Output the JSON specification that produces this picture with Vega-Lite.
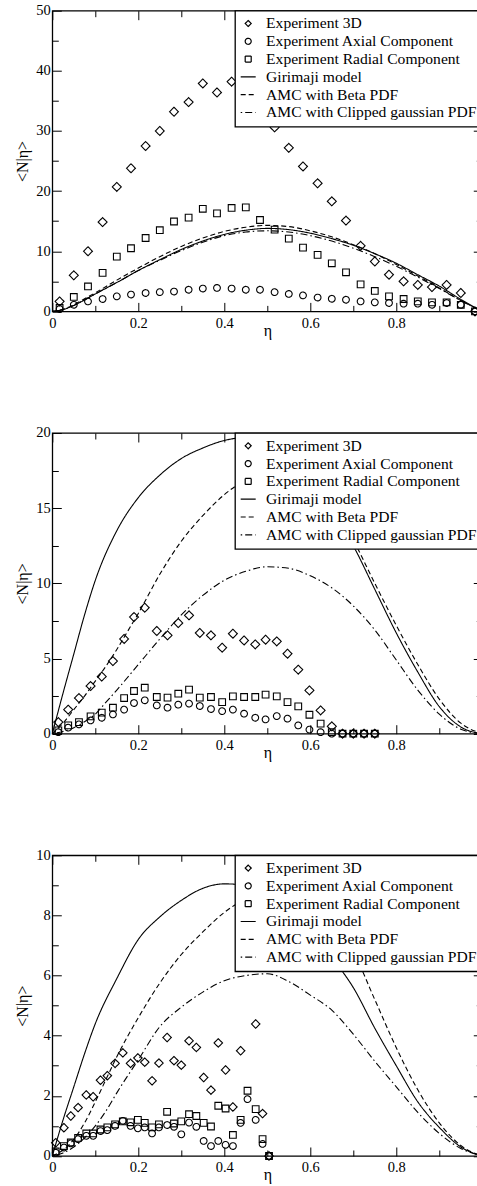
{
  "$schema": "https://vega.github.io/schema/vega-lite/v6.json",
  "padding": {"left": 13.3, "top": 1.7, "right": 0, "bottom": 0},
  "spacing": 121.3,
  "bounds": "flush",
  "config": {
    "font": "Liberation Serif",
    "view": {"stroke": "black", "strokeWidth": 1.3},
    "axis": {"domain": false, "grid": false, "tickColor": "black", "tickWidth": 1, "labelColor": "black", "titleColor": "black", "labelFont": "Liberation Serif", "labelFontSize": 14.5, "titleFont": "Liberation Serif", "titleFontWeight": "normal", "titleFontSize": 16, "labelFlush": false, "labelOverlap": false},
    "legend": {"orient": "none", "legendX": 182.7, "legendY": 0, "title": null, "strokeColor": "black", "strokeWidth": 1.3, "fillColor": "white", "padding": 5, "labelFont": "Liberation Serif", "labelFontSize": 15.6, "labelColor": "black", "labelLimit": 500, "symbolSize": 36, "symbolStrokeWidth": 1.2, "symbolOffset": 0.4, "labelOffset": 10.1, "rowPadding": 0.8}
  },
  "datasets": {
    "pts": [
      {"p":1,"s":"Experiment 3D","eta":0.017,"n":1.66},{"p":1,"s":"Experiment 3D","eta":0.05,"n":6.0},{"p":1,"s":"Experiment 3D","eta":0.083,"n":10.0},{"p":1,"s":"Experiment 3D","eta":0.117,"n":14.85},{"p":1,"s":"Experiment 3D","eta":0.15,"n":20.7},{"p":1,"s":"Experiment 3D","eta":0.183,"n":23.8},{"p":1,"s":"Experiment 3D","eta":0.217,"n":27.5},{"p":1,"s":"Experiment 3D","eta":0.25,"n":30.0},{"p":1,"s":"Experiment 3D","eta":0.283,"n":33.2},{"p":1,"s":"Experiment 3D","eta":0.317,"n":34.8},{"p":1,"s":"Experiment 3D","eta":0.35,"n":37.9},{"p":1,"s":"Experiment 3D","eta":0.383,"n":36.4},{"p":1,"s":"Experiment 3D","eta":0.417,"n":38.2},{"p":1,"s":"Experiment 3D","eta":0.45,"n":39.0},{"p":1,"s":"Experiment 3D","eta":0.483,"n":35.0},{"p":1,"s":"Experiment 3D","eta":0.517,"n":30.6},{"p":1,"s":"Experiment 3D","eta":0.55,"n":27.2},{"p":1,"s":"Experiment 3D","eta":0.583,"n":24.1},{"p":1,"s":"Experiment 3D","eta":0.617,"n":21.3},{"p":1,"s":"Experiment 3D","eta":0.65,"n":18.3},{"p":1,"s":"Experiment 3D","eta":0.683,"n":15.1},{"p":1,"s":"Experiment 3D","eta":0.717,"n":10.9},{"p":1,"s":"Experiment 3D","eta":0.75,"n":8.3},{"p":1,"s":"Experiment 3D","eta":0.783,"n":6.1},{"p":1,"s":"Experiment 3D","eta":0.817,"n":5.0},{"p":1,"s":"Experiment 3D","eta":0.85,"n":4.4},{"p":1,"s":"Experiment 3D","eta":0.883,"n":4.05},{"p":1,"s":"Experiment 3D","eta":0.917,"n":4.4},{"p":1,"s":"Experiment 3D","eta":0.95,"n":3.06},{"p":1,"s":"Experiment 3D","eta":0.983,"n":0},
      {"p":1,"s":"Experiment Axial Component","eta":0.017,"n":0.4},{"p":1,"s":"Experiment Axial Component","eta":0.05,"n":1.1},{"p":1,"s":"Experiment Axial Component","eta":0.083,"n":1.66},{"p":1,"s":"Experiment Axial Component","eta":0.117,"n":2.06},{"p":1,"s":"Experiment Axial Component","eta":0.15,"n":2.5},{"p":1,"s":"Experiment Axial Component","eta":0.183,"n":2.8},{"p":1,"s":"Experiment Axial Component","eta":0.217,"n":3.06},{"p":1,"s":"Experiment Axial Component","eta":0.25,"n":3.2},{"p":1,"s":"Experiment Axial Component","eta":0.283,"n":3.3},{"p":1,"s":"Experiment Axial Component","eta":0.317,"n":3.6},{"p":1,"s":"Experiment Axial Component","eta":0.35,"n":3.8},{"p":1,"s":"Experiment Axial Component","eta":0.383,"n":3.9},{"p":1,"s":"Experiment Axial Component","eta":0.417,"n":3.8},{"p":1,"s":"Experiment Axial Component","eta":0.45,"n":3.6},{"p":1,"s":"Experiment Axial Component","eta":0.483,"n":3.6},{"p":1,"s":"Experiment Axial Component","eta":0.517,"n":3.2},{"p":1,"s":"Experiment Axial Component","eta":0.55,"n":2.9},{"p":1,"s":"Experiment Axial Component","eta":0.583,"n":2.66},{"p":1,"s":"Experiment Axial Component","eta":0.617,"n":2.3},{"p":1,"s":"Experiment Axial Component","eta":0.65,"n":2.1},{"p":1,"s":"Experiment Axial Component","eta":0.683,"n":1.94},{"p":1,"s":"Experiment Axial Component","eta":0.717,"n":1.66},{"p":1,"s":"Experiment Axial Component","eta":0.75,"n":1.5},{"p":1,"s":"Experiment Axial Component","eta":0.783,"n":1.4},{"p":1,"s":"Experiment Axial Component","eta":0.817,"n":1.28},{"p":1,"s":"Experiment Axial Component","eta":0.85,"n":1.28},{"p":1,"s":"Experiment Axial Component","eta":0.883,"n":1.1},{"p":1,"s":"Experiment Axial Component","eta":0.917,"n":1.4},{"p":1,"s":"Experiment Axial Component","eta":0.95,"n":1.1},{"p":1,"s":"Experiment Axial Component","eta":0.983,"n":0},
      {"p":1,"s":"Experiment Radial Component","eta":0.017,"n":0.56},{"p":1,"s":"Experiment Radial Component","eta":0.05,"n":2.4},{"p":1,"s":"Experiment Radial Component","eta":0.083,"n":4.15},{"p":1,"s":"Experiment Radial Component","eta":0.117,"n":6.4},{"p":1,"s":"Experiment Radial Component","eta":0.15,"n":9.1},{"p":1,"s":"Experiment Radial Component","eta":0.183,"n":10.5},{"p":1,"s":"Experiment Radial Component","eta":0.217,"n":12.2},{"p":1,"s":"Experiment Radial Component","eta":0.25,"n":13.5},{"p":1,"s":"Experiment Radial Component","eta":0.283,"n":14.95},{"p":1,"s":"Experiment Radial Component","eta":0.317,"n":15.6},{"p":1,"s":"Experiment Radial Component","eta":0.35,"n":17.06},{"p":1,"s":"Experiment Radial Component","eta":0.383,"n":16.3},{"p":1,"s":"Experiment Radial Component","eta":0.417,"n":17.2},{"p":1,"s":"Experiment Radial Component","eta":0.45,"n":17.3},{"p":1,"s":"Experiment Radial Component","eta":0.483,"n":15.2},{"p":1,"s":"Experiment Radial Component","eta":0.517,"n":13.6},{"p":1,"s":"Experiment Radial Component","eta":0.55,"n":12.1},{"p":1,"s":"Experiment Radial Component","eta":0.583,"n":10.6},{"p":1,"s":"Experiment Radial Component","eta":0.617,"n":9.4},{"p":1,"s":"Experiment Radial Component","eta":0.65,"n":8.0},{"p":1,"s":"Experiment Radial Component","eta":0.683,"n":6.5},{"p":1,"s":"Experiment Radial Component","eta":0.717,"n":4.5},{"p":1,"s":"Experiment Radial Component","eta":0.75,"n":3.4},{"p":1,"s":"Experiment Radial Component","eta":0.783,"n":2.5},{"p":1,"s":"Experiment Radial Component","eta":0.817,"n":2.06},{"p":1,"s":"Experiment Radial Component","eta":0.85,"n":1.66},{"p":1,"s":"Experiment Radial Component","eta":0.883,"n":1.5},{"p":1,"s":"Experiment Radial Component","eta":0.917,"n":1.5},{"p":1,"s":"Experiment Radial Component","eta":0.95,"n":1.1},{"p":1,"s":"Experiment Radial Component","eta":0.983,"n":0},
      {"p":2,"s":"Experiment 3D","eta":0.014,"n":0.77},{"p":2,"s":"Experiment 3D","eta":0.037,"n":1.6},{"p":2,"s":"Experiment 3D","eta":0.062,"n":2.37},{"p":2,"s":"Experiment 3D","eta":0.089,"n":3.17},{"p":2,"s":"Experiment 3D","eta":0.115,"n":3.8},{"p":2,"s":"Experiment 3D","eta":0.141,"n":4.83},{"p":2,"s":"Experiment 3D","eta":0.167,"n":6.3},{"p":2,"s":"Experiment 3D","eta":0.19,"n":7.76},{"p":2,"s":"Experiment 3D","eta":0.215,"n":8.38},{"p":2,"s":"Experiment 3D","eta":0.243,"n":6.83},{"p":2,"s":"Experiment 3D","eta":0.268,"n":6.54},{"p":2,"s":"Experiment 3D","eta":0.293,"n":7.36},{"p":2,"s":"Experiment 3D","eta":0.318,"n":7.87},{"p":2,"s":"Experiment 3D","eta":0.343,"n":6.7},{"p":2,"s":"Experiment 3D","eta":0.369,"n":6.54},{"p":2,"s":"Experiment 3D","eta":0.395,"n":5.72},{"p":2,"s":"Experiment 3D","eta":0.42,"n":6.65},{"p":2,"s":"Experiment 3D","eta":0.446,"n":6.2},{"p":2,"s":"Experiment 3D","eta":0.472,"n":5.94},{"p":2,"s":"Experiment 3D","eta":0.496,"n":6.25},{"p":2,"s":"Experiment 3D","eta":0.522,"n":6.14},{"p":2,"s":"Experiment 3D","eta":0.547,"n":5.32},{"p":2,"s":"Experiment 3D","eta":0.572,"n":4.26},{"p":2,"s":"Experiment 3D","eta":0.598,"n":2.88},{"p":2,"s":"Experiment 3D","eta":0.624,"n":1.55},{"p":2,"s":"Experiment 3D","eta":0.65,"n":0.49},{"p":2,"s":"Experiment 3D","eta":0.675,"n":0},{"p":2,"s":"Experiment 3D","eta":0.7,"n":0},{"p":2,"s":"Experiment 3D","eta":0.725,"n":0},{"p":2,"s":"Experiment 3D","eta":0.75,"n":0},
      {"p":2,"s":"Experiment Axial Component","eta":0.014,"n":0.1},{"p":2,"s":"Experiment Axial Component","eta":0.037,"n":0.4},{"p":2,"s":"Experiment Axial Component","eta":0.062,"n":0.62},{"p":2,"s":"Experiment Axial Component","eta":0.089,"n":0.88},{"p":2,"s":"Experiment Axial Component","eta":0.115,"n":1.06},{"p":2,"s":"Experiment Axial Component","eta":0.141,"n":1.28},{"p":2,"s":"Experiment Axial Component","eta":0.167,"n":1.6},{"p":2,"s":"Experiment Axial Component","eta":0.19,"n":2.04},{"p":2,"s":"Experiment Axial Component","eta":0.215,"n":2.22},{"p":2,"s":"Experiment Axial Component","eta":0.243,"n":1.88},{"p":2,"s":"Experiment Axial Component","eta":0.268,"n":1.73},{"p":2,"s":"Experiment Axial Component","eta":0.293,"n":1.93},{"p":2,"s":"Experiment Axial Component","eta":0.318,"n":2.0},{"p":2,"s":"Experiment Axial Component","eta":0.343,"n":1.84},{"p":2,"s":"Experiment Axial Component","eta":0.369,"n":1.64},{"p":2,"s":"Experiment Axial Component","eta":0.395,"n":1.5},{"p":2,"s":"Experiment Axial Component","eta":0.42,"n":1.6},{"p":2,"s":"Experiment Axial Component","eta":0.446,"n":1.33},{"p":2,"s":"Experiment Axial Component","eta":0.472,"n":1.06},{"p":2,"s":"Experiment Axial Component","eta":0.496,"n":0.95},{"p":2,"s":"Experiment Axial Component","eta":0.522,"n":1.17},{"p":2,"s":"Experiment Axial Component","eta":0.547,"n":1.0},{"p":2,"s":"Experiment Axial Component","eta":0.572,"n":0.55},{"p":2,"s":"Experiment Axial Component","eta":0.598,"n":0.27},{"p":2,"s":"Experiment Axial Component","eta":0.624,"n":0.1},{"p":2,"s":"Experiment Axial Component","eta":0.65,"n":0},{"p":2,"s":"Experiment Axial Component","eta":0.675,"n":0},{"p":2,"s":"Experiment Axial Component","eta":0.7,"n":0},{"p":2,"s":"Experiment Axial Component","eta":0.725,"n":0},{"p":2,"s":"Experiment Axial Component","eta":0.75,"n":0},
      {"p":2,"s":"Experiment Radial Component","eta":0.014,"n":0.22},{"p":2,"s":"Experiment Radial Component","eta":0.037,"n":0.55},{"p":2,"s":"Experiment Radial Component","eta":0.062,"n":0.77},{"p":2,"s":"Experiment Radial Component","eta":0.089,"n":1.15},{"p":2,"s":"Experiment Radial Component","eta":0.115,"n":1.4},{"p":2,"s":"Experiment Radial Component","eta":0.141,"n":1.73},{"p":2,"s":"Experiment Radial Component","eta":0.167,"n":2.37},{"p":2,"s":"Experiment Radial Component","eta":0.19,"n":2.84},{"p":2,"s":"Experiment Radial Component","eta":0.215,"n":3.06},{"p":2,"s":"Experiment Radial Component","eta":0.243,"n":2.44},{"p":2,"s":"Experiment Radial Component","eta":0.268,"n":2.4},{"p":2,"s":"Experiment Radial Component","eta":0.293,"n":2.66},{"p":2,"s":"Experiment Radial Component","eta":0.318,"n":2.93},{"p":2,"s":"Experiment Radial Component","eta":0.343,"n":2.4},{"p":2,"s":"Experiment Radial Component","eta":0.369,"n":2.44},{"p":2,"s":"Experiment Radial Component","eta":0.395,"n":2.1},{"p":2,"s":"Experiment Radial Component","eta":0.42,"n":2.48},{"p":2,"s":"Experiment Radial Component","eta":0.446,"n":2.44},{"p":2,"s":"Experiment Radial Component","eta":0.472,"n":2.44},{"p":2,"s":"Experiment Radial Component","eta":0.496,"n":2.6},{"p":2,"s":"Experiment Radial Component","eta":0.522,"n":2.48},{"p":2,"s":"Experiment Radial Component","eta":0.547,"n":2.1},{"p":2,"s":"Experiment Radial Component","eta":0.572,"n":1.82},{"p":2,"s":"Experiment Radial Component","eta":0.598,"n":1.26},{"p":2,"s":"Experiment Radial Component","eta":0.624,"n":0.67},{"p":2,"s":"Experiment Radial Component","eta":0.65,"n":0.1},{"p":2,"s":"Experiment Radial Component","eta":0.675,"n":0},{"p":2,"s":"Experiment Radial Component","eta":0.7,"n":0},{"p":2,"s":"Experiment Radial Component","eta":0.725,"n":0},{"p":2,"s":"Experiment Radial Component","eta":0.75,"n":0},
      {"p":3,"s":"Experiment 3D","eta":0.008,"n":0.44},{"p":3,"s":"Experiment 3D","eta":0.027,"n":0.94},{"p":3,"s":"Experiment 3D","eta":0.043,"n":1.33},{"p":3,"s":"Experiment 3D","eta":0.06,"n":1.61},{"p":3,"s":"Experiment 3D","eta":0.079,"n":2.03},{"p":3,"s":"Experiment 3D","eta":0.095,"n":1.97},{"p":3,"s":"Experiment 3D","eta":0.112,"n":2.52},{"p":3,"s":"Experiment 3D","eta":0.128,"n":2.67},{"p":3,"s":"Experiment 3D","eta":0.146,"n":3.08},{"p":3,"s":"Experiment 3D","eta":0.164,"n":3.43},{"p":3,"s":"Experiment 3D","eta":0.182,"n":3.08},{"p":3,"s":"Experiment 3D","eta":0.199,"n":3.26},{"p":3,"s":"Experiment 3D","eta":0.215,"n":3.12},{"p":3,"s":"Experiment 3D","eta":0.232,"n":2.5},{"p":3,"s":"Experiment 3D","eta":0.248,"n":3.09},{"p":3,"s":"Experiment 3D","eta":0.267,"n":3.94},{"p":3,"s":"Experiment 3D","eta":0.283,"n":3.17},{"p":3,"s":"Experiment 3D","eta":0.3,"n":3.02},{"p":3,"s":"Experiment 3D","eta":0.318,"n":3.83},{"p":3,"s":"Experiment 3D","eta":0.335,"n":3.61},{"p":3,"s":"Experiment 3D","eta":0.352,"n":2.61},{"p":3,"s":"Experiment 3D","eta":0.369,"n":2.19},{"p":3,"s":"Experiment 3D","eta":0.386,"n":3.76},{"p":3,"s":"Experiment 3D","eta":0.403,"n":2.86},{"p":3,"s":"Experiment 3D","eta":0.42,"n":1.63},{"p":3,"s":"Experiment 3D","eta":0.438,"n":3.5},{"p":3,"s":"Experiment 3D","eta":0.454,"n":6.28},{"p":3,"s":"Experiment 3D","eta":0.473,"n":4.39},{"p":3,"s":"Experiment 3D","eta":0.489,"n":1.41},{"p":3,"s":"Experiment 3D","eta":0.504,"n":0},
      {"p":3,"s":"Experiment Axial Component","eta":0.008,"n":0.11},{"p":3,"s":"Experiment Axial Component","eta":0.027,"n":0.28},{"p":3,"s":"Experiment Axial Component","eta":0.043,"n":0.42},{"p":3,"s":"Experiment Axial Component","eta":0.06,"n":0.56},{"p":3,"s":"Experiment Axial Component","eta":0.079,"n":0.67},{"p":3,"s":"Experiment Axial Component","eta":0.095,"n":0.67},{"p":3,"s":"Experiment Axial Component","eta":0.112,"n":0.83},{"p":3,"s":"Experiment Axial Component","eta":0.128,"n":0.86},{"p":3,"s":"Experiment Axial Component","eta":0.146,"n":1.0},{"p":3,"s":"Experiment Axial Component","eta":0.164,"n":1.17},{"p":3,"s":"Experiment Axial Component","eta":0.182,"n":1.0},{"p":3,"s":"Experiment Axial Component","eta":0.199,"n":0.92},{"p":3,"s":"Experiment Axial Component","eta":0.215,"n":0.95},{"p":3,"s":"Experiment Axial Component","eta":0.232,"n":0.75},{"p":3,"s":"Experiment Axial Component","eta":0.248,"n":0.95},{"p":3,"s":"Experiment Axial Component","eta":0.267,"n":1.03},{"p":3,"s":"Experiment Axial Component","eta":0.283,"n":0.97},{"p":3,"s":"Experiment Axial Component","eta":0.3,"n":0.72},{"p":3,"s":"Experiment Axial Component","eta":0.318,"n":1.11},{"p":3,"s":"Experiment Axial Component","eta":0.335,"n":0.97},{"p":3,"s":"Experiment Axial Component","eta":0.352,"n":0.5},{"p":3,"s":"Experiment Axial Component","eta":0.369,"n":0.33},{"p":3,"s":"Experiment Axial Component","eta":0.386,"n":0.5},{"p":3,"s":"Experiment Axial Component","eta":0.403,"n":0.37},{"p":3,"s":"Experiment Axial Component","eta":0.42,"n":0.33},{"p":3,"s":"Experiment Axial Component","eta":0.438,"n":1.1},{"p":3,"s":"Experiment Axial Component","eta":0.454,"n":1.89},{"p":3,"s":"Experiment Axial Component","eta":0.473,"n":1.2},{"p":3,"s":"Experiment Axial Component","eta":0.489,"n":0.4},{"p":3,"s":"Experiment Axial Component","eta":0.504,"n":0},
      {"p":3,"s":"Experiment Radial Component","eta":0.008,"n":0.15},{"p":3,"s":"Experiment Radial Component","eta":0.027,"n":0.33},{"p":3,"s":"Experiment Radial Component","eta":0.043,"n":0.45},{"p":3,"s":"Experiment Radial Component","eta":0.06,"n":0.6},{"p":3,"s":"Experiment Radial Component","eta":0.079,"n":0.75},{"p":3,"s":"Experiment Radial Component","eta":0.095,"n":0.75},{"p":3,"s":"Experiment Radial Component","eta":0.112,"n":0.88},{"p":3,"s":"Experiment Radial Component","eta":0.128,"n":0.95},{"p":3,"s":"Experiment Radial Component","eta":0.146,"n":1.05},{"p":3,"s":"Experiment Radial Component","eta":0.164,"n":1.15},{"p":3,"s":"Experiment Radial Component","eta":0.182,"n":1.12},{"p":3,"s":"Experiment Radial Component","eta":0.199,"n":1.2},{"p":3,"s":"Experiment Radial Component","eta":0.215,"n":1.1},{"p":3,"s":"Experiment Radial Component","eta":0.232,"n":0.95},{"p":3,"s":"Experiment Radial Component","eta":0.248,"n":1.05},{"p":3,"s":"Experiment Radial Component","eta":0.267,"n":1.47},{"p":3,"s":"Experiment Radial Component","eta":0.283,"n":1.08},{"p":3,"s":"Experiment Radial Component","eta":0.3,"n":1.15},{"p":3,"s":"Experiment Radial Component","eta":0.318,"n":1.39},{"p":3,"s":"Experiment Radial Component","eta":0.335,"n":1.33},{"p":3,"s":"Experiment Radial Component","eta":0.352,"n":1.1},{"p":3,"s":"Experiment Radial Component","eta":0.369,"n":0.98},{"p":3,"s":"Experiment Radial Component","eta":0.386,"n":1.67},{"p":3,"s":"Experiment Radial Component","eta":0.403,"n":1.58},{"p":3,"s":"Experiment Radial Component","eta":0.42,"n":0.7},{"p":3,"s":"Experiment Radial Component","eta":0.438,"n":1.2},{"p":3,"s":"Experiment Radial Component","eta":0.454,"n":2.17},{"p":3,"s":"Experiment Radial Component","eta":0.473,"n":1.56},{"p":3,"s":"Experiment Radial Component","eta":0.489,"n":0.56},{"p":3,"s":"Experiment Radial Component","eta":0.504,"n":0}
    ],
    "curves": [
      {"p":1,"s":"Girimaji model","eta":0,"n":0},{"p":1,"s":"Girimaji model","eta":0.025,"n":0.3},{"p":1,"s":"Girimaji model","eta":0.05,"n":1.0},{"p":1,"s":"Girimaji model","eta":0.075,"n":1.9},{"p":1,"s":"Girimaji model","eta":0.1,"n":2.9},{"p":1,"s":"Girimaji model","eta":0.15,"n":4.8},{"p":1,"s":"Girimaji model","eta":0.2,"n":6.8},{"p":1,"s":"Girimaji model","eta":0.25,"n":8.6},{"p":1,"s":"Girimaji model","eta":0.3,"n":10.3},{"p":1,"s":"Girimaji model","eta":0.35,"n":11.7},{"p":1,"s":"Girimaji model","eta":0.4,"n":12.8},{"p":1,"s":"Girimaji model","eta":0.45,"n":13.5},{"p":1,"s":"Girimaji model","eta":0.5,"n":13.8},{"p":1,"s":"Girimaji model","eta":0.55,"n":13.6},{"p":1,"s":"Girimaji model","eta":0.6,"n":13.0},{"p":1,"s":"Girimaji model","eta":0.65,"n":12.1},{"p":1,"s":"Girimaji model","eta":0.7,"n":11.0},{"p":1,"s":"Girimaji model","eta":0.75,"n":9.6},{"p":1,"s":"Girimaji model","eta":0.8,"n":8.0},{"p":1,"s":"Girimaji model","eta":0.85,"n":6.1},{"p":1,"s":"Girimaji model","eta":0.9,"n":4.2},{"p":1,"s":"Girimaji model","eta":0.95,"n":2.0},{"p":1,"s":"Girimaji model","eta":1.0,"n":0},
      {"p":1,"s":"AMC with Beta PDF","eta":0,"n":0},{"p":1,"s":"AMC with Beta PDF","eta":0.025,"n":0.35},{"p":1,"s":"AMC with Beta PDF","eta":0.05,"n":1.1},{"p":1,"s":"AMC with Beta PDF","eta":0.075,"n":2.1},{"p":1,"s":"AMC with Beta PDF","eta":0.1,"n":3.1},{"p":1,"s":"AMC with Beta PDF","eta":0.15,"n":5.2},{"p":1,"s":"AMC with Beta PDF","eta":0.2,"n":7.2},{"p":1,"s":"AMC with Beta PDF","eta":0.25,"n":9.1},{"p":1,"s":"AMC with Beta PDF","eta":0.3,"n":10.8},{"p":1,"s":"AMC with Beta PDF","eta":0.35,"n":12.2},{"p":1,"s":"AMC with Beta PDF","eta":0.4,"n":13.3},{"p":1,"s":"AMC with Beta PDF","eta":0.45,"n":14.0},{"p":1,"s":"AMC with Beta PDF","eta":0.5,"n":14.3},{"p":1,"s":"AMC with Beta PDF","eta":0.55,"n":14.1},{"p":1,"s":"AMC with Beta PDF","eta":0.6,"n":13.4},{"p":1,"s":"AMC with Beta PDF","eta":0.65,"n":12.4},{"p":1,"s":"AMC with Beta PDF","eta":0.7,"n":11.1},{"p":1,"s":"AMC with Beta PDF","eta":0.75,"n":9.6},{"p":1,"s":"AMC with Beta PDF","eta":0.8,"n":7.8},{"p":1,"s":"AMC with Beta PDF","eta":0.85,"n":5.9},{"p":1,"s":"AMC with Beta PDF","eta":0.9,"n":3.9},{"p":1,"s":"AMC with Beta PDF","eta":0.95,"n":1.8},{"p":1,"s":"AMC with Beta PDF","eta":1.0,"n":0},
      {"p":1,"s":"AMC with Clipped gaussian PDF","eta":0,"n":0},{"p":1,"s":"AMC with Clipped gaussian PDF","eta":0.025,"n":0.3},{"p":1,"s":"AMC with Clipped gaussian PDF","eta":0.05,"n":1.0},{"p":1,"s":"AMC with Clipped gaussian PDF","eta":0.075,"n":1.9},{"p":1,"s":"AMC with Clipped gaussian PDF","eta":0.1,"n":2.9},{"p":1,"s":"AMC with Clipped gaussian PDF","eta":0.15,"n":4.8},{"p":1,"s":"AMC with Clipped gaussian PDF","eta":0.2,"n":6.8},{"p":1,"s":"AMC with Clipped gaussian PDF","eta":0.25,"n":8.5},{"p":1,"s":"AMC with Clipped gaussian PDF","eta":0.3,"n":10.1},{"p":1,"s":"AMC with Clipped gaussian PDF","eta":0.35,"n":11.5},{"p":1,"s":"AMC with Clipped gaussian PDF","eta":0.4,"n":12.6},{"p":1,"s":"AMC with Clipped gaussian PDF","eta":0.45,"n":13.2},{"p":1,"s":"AMC with Clipped gaussian PDF","eta":0.5,"n":13.4},{"p":1,"s":"AMC with Clipped gaussian PDF","eta":0.55,"n":13.2},{"p":1,"s":"AMC with Clipped gaussian PDF","eta":0.6,"n":12.6},{"p":1,"s":"AMC with Clipped gaussian PDF","eta":0.65,"n":11.7},{"p":1,"s":"AMC with Clipped gaussian PDF","eta":0.7,"n":10.5},{"p":1,"s":"AMC with Clipped gaussian PDF","eta":0.75,"n":9.1},{"p":1,"s":"AMC with Clipped gaussian PDF","eta":0.8,"n":7.5},{"p":1,"s":"AMC with Clipped gaussian PDF","eta":0.85,"n":5.7},{"p":1,"s":"AMC with Clipped gaussian PDF","eta":0.9,"n":3.8},{"p":1,"s":"AMC with Clipped gaussian PDF","eta":0.95,"n":1.8},{"p":1,"s":"AMC with Clipped gaussian PDF","eta":1.0,"n":0},
      {"p":2,"s":"Girimaji model","eta":0,"n":0},{"p":2,"s":"Girimaji model","eta":0.025,"n":2.7},{"p":2,"s":"Girimaji model","eta":0.05,"n":5.3},{"p":2,"s":"Girimaji model","eta":0.075,"n":7.9},{"p":2,"s":"Girimaji model","eta":0.1,"n":10.2},{"p":2,"s":"Girimaji model","eta":0.15,"n":13.5},{"p":2,"s":"Girimaji model","eta":0.2,"n":15.7},{"p":2,"s":"Girimaji model","eta":0.25,"n":17.2},{"p":2,"s":"Girimaji model","eta":0.3,"n":18.3},{"p":2,"s":"Girimaji model","eta":0.35,"n":19.0},{"p":2,"s":"Girimaji model","eta":0.4,"n":19.5},{"p":2,"s":"Girimaji model","eta":0.45,"n":19.7},{"p":2,"s":"Girimaji model","eta":0.5,"n":19.5},{"p":2,"s":"Girimaji model","eta":0.55,"n":18.5},{"p":2,"s":"Girimaji model","eta":0.6,"n":16.9},{"p":2,"s":"Girimaji model","eta":0.65,"n":14.9},{"p":2,"s":"Girimaji model","eta":0.7,"n":12.5},{"p":2,"s":"Girimaji model","eta":0.75,"n":9.6},{"p":2,"s":"Girimaji model","eta":0.8,"n":6.7},{"p":2,"s":"Girimaji model","eta":0.85,"n":4.1},{"p":2,"s":"Girimaji model","eta":0.9,"n":1.8},{"p":2,"s":"Girimaji model","eta":0.95,"n":0.45},{"p":2,"s":"Girimaji model","eta":1.0,"n":0},
      {"p":2,"s":"AMC with Beta PDF","eta":0,"n":0},{"p":2,"s":"AMC with Beta PDF","eta":0.025,"n":0.7},{"p":2,"s":"AMC with Beta PDF","eta":0.05,"n":1.6},{"p":2,"s":"AMC with Beta PDF","eta":0.075,"n":2.5},{"p":2,"s":"AMC with Beta PDF","eta":0.1,"n":3.5},{"p":2,"s":"AMC with Beta PDF","eta":0.125,"n":4.5},{"p":2,"s":"AMC with Beta PDF","eta":0.15,"n":5.6},{"p":2,"s":"AMC with Beta PDF","eta":0.175,"n":6.8},{"p":2,"s":"AMC with Beta PDF","eta":0.2,"n":8.0},{"p":2,"s":"AMC with Beta PDF","eta":0.25,"n":10.6},{"p":2,"s":"AMC with Beta PDF","eta":0.3,"n":12.8},{"p":2,"s":"AMC with Beta PDF","eta":0.35,"n":14.5},{"p":2,"s":"AMC with Beta PDF","eta":0.4,"n":15.9},{"p":2,"s":"AMC with Beta PDF","eta":0.45,"n":16.9},{"p":2,"s":"AMC with Beta PDF","eta":0.5,"n":17.6},{"p":2,"s":"AMC with Beta PDF","eta":0.55,"n":17.8},{"p":2,"s":"AMC with Beta PDF","eta":0.6,"n":17.3},{"p":2,"s":"AMC with Beta PDF","eta":0.65,"n":15.6},{"p":2,"s":"AMC with Beta PDF","eta":0.7,"n":12.9},{"p":2,"s":"AMC with Beta PDF","eta":0.75,"n":10.0},{"p":2,"s":"AMC with Beta PDF","eta":0.8,"n":7.2},{"p":2,"s":"AMC with Beta PDF","eta":0.85,"n":4.6},{"p":2,"s":"AMC with Beta PDF","eta":0.9,"n":2.3},{"p":2,"s":"AMC with Beta PDF","eta":0.95,"n":0.7},{"p":2,"s":"AMC with Beta PDF","eta":1.0,"n":0},
      {"p":2,"s":"AMC with Clipped gaussian PDF","eta":0,"n":0},{"p":2,"s":"AMC with Clipped gaussian PDF","eta":0.025,"n":0.15},{"p":2,"s":"AMC with Clipped gaussian PDF","eta":0.05,"n":0.4},{"p":2,"s":"AMC with Clipped gaussian PDF","eta":0.075,"n":0.8},{"p":2,"s":"AMC with Clipped gaussian PDF","eta":0.1,"n":1.3},{"p":2,"s":"AMC with Clipped gaussian PDF","eta":0.125,"n":2.1},{"p":2,"s":"AMC with Clipped gaussian PDF","eta":0.15,"n":2.9},{"p":2,"s":"AMC with Clipped gaussian PDF","eta":0.2,"n":4.6},{"p":2,"s":"AMC with Clipped gaussian PDF","eta":0.25,"n":6.3},{"p":2,"s":"AMC with Clipped gaussian PDF","eta":0.3,"n":7.9},{"p":2,"s":"AMC with Clipped gaussian PDF","eta":0.35,"n":9.2},{"p":2,"s":"AMC with Clipped gaussian PDF","eta":0.4,"n":10.2},{"p":2,"s":"AMC with Clipped gaussian PDF","eta":0.45,"n":10.8},{"p":2,"s":"AMC with Clipped gaussian PDF","eta":0.5,"n":11.1},{"p":2,"s":"AMC with Clipped gaussian PDF","eta":0.55,"n":11.0},{"p":2,"s":"AMC with Clipped gaussian PDF","eta":0.6,"n":10.5},{"p":2,"s":"AMC with Clipped gaussian PDF","eta":0.65,"n":9.7},{"p":2,"s":"AMC with Clipped gaussian PDF","eta":0.7,"n":8.5},{"p":2,"s":"AMC with Clipped gaussian PDF","eta":0.75,"n":6.9},{"p":2,"s":"AMC with Clipped gaussian PDF","eta":0.8,"n":4.9},{"p":2,"s":"AMC with Clipped gaussian PDF","eta":0.85,"n":2.9},{"p":2,"s":"AMC with Clipped gaussian PDF","eta":0.9,"n":1.3},{"p":2,"s":"AMC with Clipped gaussian PDF","eta":0.95,"n":0.3},{"p":2,"s":"AMC with Clipped gaussian PDF","eta":1.0,"n":0},
      {"p":3,"s":"Girimaji model","eta":0,"n":0},{"p":3,"s":"Girimaji model","eta":0.025,"n":1.2},{"p":3,"s":"Girimaji model","eta":0.05,"n":2.3},{"p":3,"s":"Girimaji model","eta":0.075,"n":3.4},{"p":3,"s":"Girimaji model","eta":0.1,"n":4.4},{"p":3,"s":"Girimaji model","eta":0.15,"n":5.9},{"p":3,"s":"Girimaji model","eta":0.2,"n":7.2},{"p":3,"s":"Girimaji model","eta":0.25,"n":7.95},{"p":3,"s":"Girimaji model","eta":0.3,"n":8.5},{"p":3,"s":"Girimaji model","eta":0.35,"n":8.9},{"p":3,"s":"Girimaji model","eta":0.4,"n":9.05},{"p":3,"s":"Girimaji model","eta":0.45,"n":9.0},{"p":3,"s":"Girimaji model","eta":0.5,"n":8.7},{"p":3,"s":"Girimaji model","eta":0.55,"n":8.2},{"p":3,"s":"Girimaji model","eta":0.6,"n":7.5},{"p":3,"s":"Girimaji model","eta":0.65,"n":6.6},{"p":3,"s":"Girimaji model","eta":0.7,"n":5.6},{"p":3,"s":"Girimaji model","eta":0.75,"n":4.25},{"p":3,"s":"Girimaji model","eta":0.8,"n":3.0},{"p":3,"s":"Girimaji model","eta":0.85,"n":1.8},{"p":3,"s":"Girimaji model","eta":0.9,"n":0.95},{"p":3,"s":"Girimaji model","eta":0.95,"n":0.3},{"p":3,"s":"Girimaji model","eta":1.0,"n":0},
      {"p":3,"s":"AMC with Beta PDF","eta":0,"n":0},{"p":3,"s":"AMC with Beta PDF","eta":0.025,"n":0.2},{"p":3,"s":"AMC with Beta PDF","eta":0.05,"n":0.55},{"p":3,"s":"AMC with Beta PDF","eta":0.075,"n":1.1},{"p":3,"s":"AMC with Beta PDF","eta":0.1,"n":1.8},{"p":3,"s":"AMC with Beta PDF","eta":0.125,"n":2.55},{"p":3,"s":"AMC with Beta PDF","eta":0.15,"n":3.3},{"p":3,"s":"AMC with Beta PDF","eta":0.2,"n":4.6},{"p":3,"s":"AMC with Beta PDF","eta":0.25,"n":5.75},{"p":3,"s":"AMC with Beta PDF","eta":0.3,"n":6.7},{"p":3,"s":"AMC with Beta PDF","eta":0.35,"n":7.45},{"p":3,"s":"AMC with Beta PDF","eta":0.4,"n":8.1},{"p":3,"s":"AMC with Beta PDF","eta":0.45,"n":8.55},{"p":3,"s":"AMC with Beta PDF","eta":0.5,"n":8.8},{"p":3,"s":"AMC with Beta PDF","eta":0.55,"n":8.9},{"p":3,"s":"AMC with Beta PDF","eta":0.6,"n":8.6},{"p":3,"s":"AMC with Beta PDF","eta":0.65,"n":7.9},{"p":3,"s":"AMC with Beta PDF","eta":0.7,"n":6.8},{"p":3,"s":"AMC with Beta PDF","eta":0.75,"n":5.2},{"p":3,"s":"AMC with Beta PDF","eta":0.8,"n":3.6},{"p":3,"s":"AMC with Beta PDF","eta":0.85,"n":2.2},{"p":3,"s":"AMC with Beta PDF","eta":0.9,"n":1.1},{"p":3,"s":"AMC with Beta PDF","eta":0.95,"n":0.35},{"p":3,"s":"AMC with Beta PDF","eta":1.0,"n":0},
      {"p":3,"s":"AMC with Clipped gaussian PDF","eta":0,"n":0},{"p":3,"s":"AMC with Clipped gaussian PDF","eta":0.025,"n":0.1},{"p":3,"s":"AMC with Clipped gaussian PDF","eta":0.05,"n":0.3},{"p":3,"s":"AMC with Clipped gaussian PDF","eta":0.075,"n":0.6},{"p":3,"s":"AMC with Clipped gaussian PDF","eta":0.1,"n":1.0},{"p":3,"s":"AMC with Clipped gaussian PDF","eta":0.125,"n":1.5},{"p":3,"s":"AMC with Clipped gaussian PDF","eta":0.15,"n":2.1},{"p":3,"s":"AMC with Clipped gaussian PDF","eta":0.2,"n":3.2},{"p":3,"s":"AMC with Clipped gaussian PDF","eta":0.25,"n":4.3},{"p":3,"s":"AMC with Clipped gaussian PDF","eta":0.3,"n":4.95},{"p":3,"s":"AMC with Clipped gaussian PDF","eta":0.35,"n":5.45},{"p":3,"s":"AMC with Clipped gaussian PDF","eta":0.4,"n":5.83},{"p":3,"s":"AMC with Clipped gaussian PDF","eta":0.45,"n":6.0},{"p":3,"s":"AMC with Clipped gaussian PDF","eta":0.5,"n":6.06},{"p":3,"s":"AMC with Clipped gaussian PDF","eta":0.55,"n":5.8},{"p":3,"s":"AMC with Clipped gaussian PDF","eta":0.6,"n":5.35},{"p":3,"s":"AMC with Clipped gaussian PDF","eta":0.65,"n":4.85},{"p":3,"s":"AMC with Clipped gaussian PDF","eta":0.7,"n":4.05},{"p":3,"s":"AMC with Clipped gaussian PDF","eta":0.75,"n":3.15},{"p":3,"s":"AMC with Clipped gaussian PDF","eta":0.8,"n":2.3},{"p":3,"s":"AMC with Clipped gaussian PDF","eta":0.85,"n":1.45},{"p":3,"s":"AMC with Clipped gaussian PDF","eta":0.9,"n":0.75},{"p":3,"s":"AMC with Clipped gaussian PDF","eta":0.95,"n":0.25},{"p":3,"s":"AMC with Clipped gaussian PDF","eta":1.0,"n":0}
    ]
  },
  "resolve": {"scale": {"x": "independent", "y": "independent", "shape": "independent", "strokeDash": "independent"}, "legend": {"shape": "independent", "strokeDash": "independent"}},
  "vconcat": [
    {
      "width": 430, "height": 300.7,
      "resolve": {"axis": {"x": "independent", "y": "independent"}},
      "layer": [
        {"data": {"name": "pts"}, "transform": [{"filter": "datum.p == 1 && datum.s == 'Experiment 3D'"}],
         "mark": {"type": "point", "filled": false, "color": "black", "strokeWidth": 1.1, "size": 80, "opacity": 1},
         "encoding": {
           "x": {"field": "eta", "type": "quantitative", "scale": {"domain": [0, 1], "nice": false}, "axis": {"orient": "bottom", "values": [0, 0.2, 0.4, 0.6, 0.8], "format": "~g", "tickSize": -9, "labelPadding": 14, "title": "η", "titleY": 11, "titleBaseline": "top"}},
           "y": {"field": "n", "type": "quantitative", "scale": {"domain": [0, 50], "nice": false}, "axis": {"orient": "left", "values": [0, 10, 20, 30, 40, 50], "tickSize": -9, "labelPadding": 11, "title": "<N|η>", "titlePadding": 5}},
           "shape": {"field": "s", "type": "nominal", "scale": {"domain": ["Experiment 3D", "Experiment Axial Component", "Experiment Radial Component", "Girimaji model", "AMC with Beta PDF", "AMC with Clipped gaussian PDF"], "range": ["diamond", "circle", "square", "M-2.5,0L2.5,0", "M-2.5,0L2.5,0", "M-2.5,0L2.5,0"]},
             "legend": {"encode": {"symbols": {"fill": {"value": "transparent"}, "stroke": {"value": "black"}}}}},
           "strokeDash": {"field": "s", "type": "nominal", "scale": {"domain": ["Experiment 3D", "Experiment Axial Component", "Experiment Radial Component", "Girimaji model", "AMC with Beta PDF", "AMC with Clipped gaussian PDF"], "range": [[1, 0], [1, 0], [1, 0], [1, 0], [5, 3], [1.5, 3, 7, 3]]}}
         }},
        {"data": {"name": "pts"}, "transform": [{"filter": "datum.p == 1 && datum.s == 'Experiment Axial Component'"}],
         "mark": {"type": "point", "filled": false, "color": "black", "strokeWidth": 1.1, "size": 45, "opacity": 1},
         "encoding": {
           "x": {"field": "eta", "type": "quantitative", "axis": {"orient": "bottom", "values": [0.1, 0.3, 0.5, 0.7, 0.9], "tickSize": -6, "labels": false, "title": null}},
           "y": {"field": "n", "type": "quantitative", "axis": {"orient": "left", "values": [5, 15, 25, 35, 45], "tickSize": -6, "labels": false, "title": null}},
           "shape": {"field": "s", "type": "nominal"},
           "strokeDash": {"field": "s", "type": "nominal"}
         }},
        {"data": {"name": "pts"}, "transform": [{"filter": "datum.p == 1 && datum.s == 'Experiment Radial Component'"}],
         "mark": {"type": "point", "filled": false, "color": "black", "strokeWidth": 1.1, "size": 45, "opacity": 1},
         "encoding": {
           "x": {"field": "eta", "type": "quantitative", "axis": {"orient": "top", "values": [0, 0.2, 0.4, 0.6, 0.8, 1], "tickSize": -9, "labels": false, "title": null}},
           "y": {"field": "n", "type": "quantitative", "axis": {"orient": "right", "values": [0, 10, 20, 30, 40, 50], "tickSize": -9, "labels": false, "title": null}},
           "shape": {"field": "s", "type": "nominal"},
           "strokeDash": {"field": "s", "type": "nominal"}
         }},
        {"data": {"name": "curves"}, "transform": [{"filter": "datum.p == 1"}],
         "mark": {"type": "line", "color": "black", "strokeWidth": 1.1, "interpolate": "monotone"},
         "encoding": {
           "x": {"field": "eta", "type": "quantitative", "axis": {"orient": "top", "values": [0.1, 0.3, 0.5, 0.7, 0.9], "tickSize": -6, "labels": false, "title": null}},
           "y": {"field": "n", "type": "quantitative", "axis": {"orient": "right", "values": [5, 15, 25, 35, 45], "tickSize": -6, "labels": false, "title": null}},
           "strokeDash": {"field": "s", "type": "nominal"}
         }}
      ]
    },
    {
      "width": 430, "height": 300.7,
      "resolve": {"axis": {"x": "independent", "y": "independent"}},
      "layer": [
        {"data": {"name": "pts"}, "transform": [{"filter": "datum.p == 2 && datum.s == 'Experiment 3D'"}],
         "mark": {"type": "point", "filled": false, "color": "black", "strokeWidth": 1.1, "size": 80, "opacity": 1},
         "encoding": {
           "x": {"field": "eta", "type": "quantitative", "scale": {"domain": [0, 1], "nice": false}, "axis": {"orient": "bottom", "values": [0, 0.2, 0.4, 0.6, 0.8], "format": "~g", "tickSize": -9, "labelPadding": 14, "title": "η", "titleY": 11, "titleBaseline": "top"}},
           "y": {"field": "n", "type": "quantitative", "scale": {"domain": [0, 20], "nice": false}, "axis": {"orient": "left", "values": [0, 5, 10, 15, 20], "tickSize": -9, "labelPadding": 11, "title": "<N|η>", "titlePadding": 5}},
           "shape": {"field": "s", "type": "nominal", "scale": {"domain": ["Experiment 3D", "Experiment Axial Component", "Experiment Radial Component", "Girimaji model", "AMC with Beta PDF", "AMC with Clipped gaussian PDF"], "range": ["diamond", "circle", "square", "M-2.5,0L2.5,0", "M-2.5,0L2.5,0", "M-2.5,0L2.5,0"]},
             "legend": {"encode": {"symbols": {"fill": {"value": "transparent"}, "stroke": {"value": "black"}}}}},
           "strokeDash": {"field": "s", "type": "nominal", "scale": {"domain": ["Experiment 3D", "Experiment Axial Component", "Experiment Radial Component", "Girimaji model", "AMC with Beta PDF", "AMC with Clipped gaussian PDF"], "range": [[1, 0], [1, 0], [1, 0], [1, 0], [5, 3], [1.5, 3, 7, 3]]}}
         }},
        {"data": {"name": "pts"}, "transform": [{"filter": "datum.p == 2 && datum.s == 'Experiment Axial Component'"}],
         "mark": {"type": "point", "filled": false, "color": "black", "strokeWidth": 1.1, "size": 45, "opacity": 1},
         "encoding": {
           "x": {"field": "eta", "type": "quantitative", "axis": {"orient": "bottom", "values": [0.1, 0.3, 0.5, 0.7, 0.9], "tickSize": -6, "labels": false, "title": null}},
           "y": {"field": "n", "type": "quantitative", "axis": {"orient": "left", "values": [2.5, 7.5, 12.5, 17.5], "tickSize": -6, "labels": false, "title": null}},
           "shape": {"field": "s", "type": "nominal"},
           "strokeDash": {"field": "s", "type": "nominal"}
         }},
        {"data": {"name": "pts"}, "transform": [{"filter": "datum.p == 2 && datum.s == 'Experiment Radial Component'"}],
         "mark": {"type": "point", "filled": false, "color": "black", "strokeWidth": 1.1, "size": 45, "opacity": 1},
         "encoding": {
           "x": {"field": "eta", "type": "quantitative", "axis": {"orient": "top", "values": [0, 0.2, 0.4, 0.6, 0.8, 1], "tickSize": -9, "labels": false, "title": null}},
           "y": {"field": "n", "type": "quantitative", "axis": {"orient": "right", "values": [0, 5, 10, 15, 20], "tickSize": -9, "labels": false, "title": null}},
           "shape": {"field": "s", "type": "nominal"},
           "strokeDash": {"field": "s", "type": "nominal"}
         }},
        {"data": {"name": "curves"}, "transform": [{"filter": "datum.p == 2"}],
         "mark": {"type": "line", "color": "black", "strokeWidth": 1.1, "interpolate": "monotone"},
         "encoding": {
           "x": {"field": "eta", "type": "quantitative", "axis": {"orient": "top", "values": [0.1, 0.3, 0.5, 0.7, 0.9], "tickSize": -6, "labels": false, "title": null}},
           "y": {"field": "n", "type": "quantitative", "axis": {"orient": "right", "values": [2.5, 7.5, 12.5, 17.5], "tickSize": -6, "labels": false, "title": null}},
           "strokeDash": {"field": "s", "type": "nominal"}
         }}
      ]
    },
    {
      "width": 430, "height": 300.7,
      "resolve": {"axis": {"x": "independent", "y": "independent"}},
      "layer": [
        {"data": {"name": "pts"}, "transform": [{"filter": "datum.p == 3 && datum.s == 'Experiment 3D'"}],
         "mark": {"type": "point", "filled": false, "color": "black", "strokeWidth": 1.1, "size": 72, "opacity": 1},
         "encoding": {
           "x": {"field": "eta", "type": "quantitative", "scale": {"domain": [0, 1], "nice": false}, "axis": {"orient": "bottom", "values": [0, 0.2, 0.4, 0.6, 0.8], "format": "~g", "tickSize": -9, "labelPadding": 14, "title": "η", "titleY": 11, "titleBaseline": "top"}},
           "y": {"field": "n", "type": "quantitative", "scale": {"domain": [0, 10], "nice": false}, "axis": {"orient": "left", "values": [0, 2, 4, 6, 8, 10], "tickSize": -9, "labelPadding": 11, "title": "<N|η>", "titlePadding": 5}},
           "shape": {"field": "s", "type": "nominal", "scale": {"domain": ["Experiment 3D", "Experiment Axial Component", "Experiment Radial Component", "Girimaji model", "AMC with Beta PDF", "AMC with Clipped gaussian PDF"], "range": ["diamond", "circle", "square", "M-2.5,0L2.5,0", "M-2.5,0L2.5,0", "M-2.5,0L2.5,0"]},
             "legend": {"encode": {"symbols": {"fill": {"value": "transparent"}, "stroke": {"value": "black"}}}}},
           "strokeDash": {"field": "s", "type": "nominal", "scale": {"domain": ["Experiment 3D", "Experiment Axial Component", "Experiment Radial Component", "Girimaji model", "AMC with Beta PDF", "AMC with Clipped gaussian PDF"], "range": [[1, 0], [1, 0], [1, 0], [1, 0], [5, 3], [1.5, 3, 7, 3]]}}
         }},
        {"data": {"name": "pts"}, "transform": [{"filter": "datum.p == 3 && datum.s == 'Experiment Axial Component'"}],
         "mark": {"type": "point", "filled": false, "color": "black", "strokeWidth": 1.1, "size": 45, "opacity": 1},
         "encoding": {
           "x": {"field": "eta", "type": "quantitative", "axis": {"orient": "bottom", "values": [0.1, 0.3, 0.5, 0.7, 0.9], "tickSize": -6, "labels": false, "title": null}},
           "y": {"field": "n", "type": "quantitative", "axis": {"orient": "left", "values": [1, 3, 5, 7, 9], "tickSize": -6, "labels": false, "title": null}},
           "shape": {"field": "s", "type": "nominal"},
           "strokeDash": {"field": "s", "type": "nominal"}
         }},
        {"data": {"name": "pts"}, "transform": [{"filter": "datum.p == 3 && datum.s == 'Experiment Radial Component'"}],
         "mark": {"type": "point", "filled": false, "color": "black", "strokeWidth": 1.1, "size": 45, "opacity": 1},
         "encoding": {
           "x": {"field": "eta", "type": "quantitative", "axis": {"orient": "top", "values": [0, 0.2, 0.4, 0.6, 0.8, 1], "tickSize": -9, "labels": false, "title": null}},
           "y": {"field": "n", "type": "quantitative", "axis": {"orient": "right", "values": [0, 2, 4, 6, 8, 10], "tickSize": -9, "labels": false, "title": null}},
           "shape": {"field": "s", "type": "nominal"},
           "strokeDash": {"field": "s", "type": "nominal"}
         }},
        {"data": {"name": "curves"}, "transform": [{"filter": "datum.p == 3"}],
         "mark": {"type": "line", "color": "black", "strokeWidth": 1.1, "interpolate": "monotone"},
         "encoding": {
           "x": {"field": "eta", "type": "quantitative", "axis": {"orient": "top", "values": [0.1, 0.3, 0.5, 0.7, 0.9], "tickSize": -6, "labels": false, "title": null}},
           "y": {"field": "n", "type": "quantitative", "axis": {"orient": "right", "values": [1, 3, 5, 7, 9], "tickSize": -6, "labels": false, "title": null}},
           "strokeDash": {"field": "s", "type": "nominal"}
         }}
      ]
    }
  ]
}
